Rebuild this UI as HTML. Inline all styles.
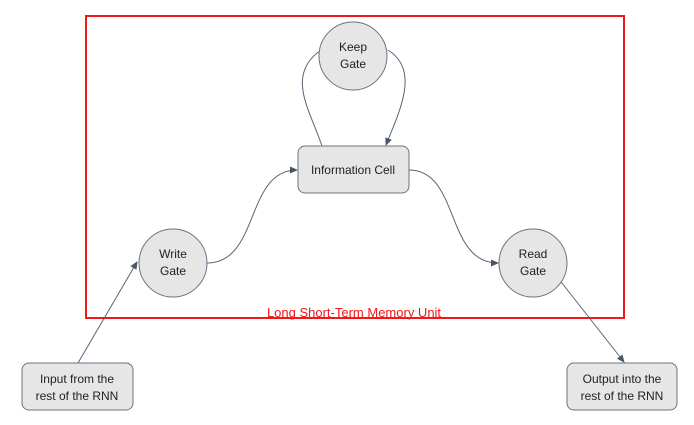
<!DOCTYPE html>
<html><head><style>
body{margin:0;background:#fff;}
svg text{font-family:"Liberation Sans",sans-serif;}
</style></head><body>
<svg width="694" height="420" viewBox="0 0 694 420" xmlns="http://www.w3.org/2000/svg">
<defs><marker id="a" markerWidth="8" markerHeight="8" refX="7" refY="4" orient="auto" markerUnits="userSpaceOnUse"><path d="M0,0.5 L8,4 L0,7.5 Z" fill="#4a5568"/></marker></defs>
<rect x="86" y="16" width="538" height="302" fill="none" stroke="#f01818" stroke-width="2"/>
<text x="354" y="317" font-size="13" fill="#f01818" text-anchor="middle">Long Short-Term Memory Unit</text>
<g fill="none" stroke="#5a6475" stroke-width="1">
<path d="M322,146 C310,110 285,75 321,50"/>
<path d="M388,50 C420,70 400,110 386,145" marker-end="url(#a)"/>
<path d="M207,263 C260,263 245,170 297,170" marker-end="url(#a)"/>
<path d="M409,170 C460,170 445,263 498,263" marker-end="url(#a)"/>
<path d="M78,363 L137,262" marker-end="url(#a)"/>
<path d="M558,278 L624,362" marker-end="url(#a)"/>
</g>
<g fill="#e6e6e6" stroke="#6b7380" stroke-width="1">
<circle cx="353" cy="56" r="34"/>
<circle cx="173" cy="263" r="34"/>
<circle cx="533" cy="263" r="34"/>
<rect x="298" y="146" width="111" height="47" rx="7"/>
<rect x="22" y="363" width="111" height="47" rx="7"/>
<rect x="567" y="363" width="110" height="47" rx="7"/>
</g>
<g font-size="12" fill="#222" text-anchor="middle">
<text x="353" y="51">Keep</text><text x="353" y="68">Gate</text>
<text x="173" y="258">Write</text><text x="173" y="275">Gate</text>
<text x="533" y="258">Read</text><text x="533" y="275">Gate</text>
<text x="353" y="174">Information Cell</text>
<text x="77" y="383">Input from the</text><text x="77" y="400">rest of the RNN</text>
<text x="622" y="383">Output into the</text><text x="622" y="400">rest of the RNN</text>
</g>
</svg>
</body></html>
